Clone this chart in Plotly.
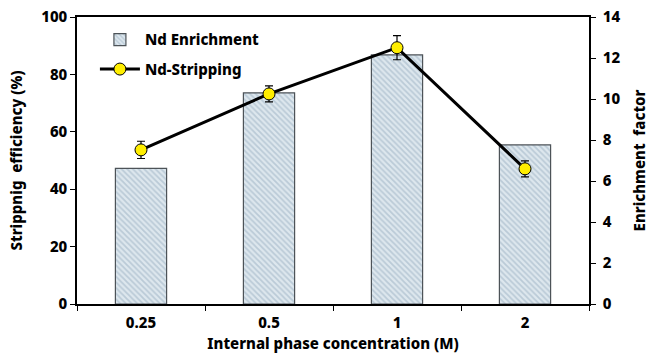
import plotly.graph_objects as go

categories = ["0.25", "0.5", "1", "2"]
enrichment = [6.62, 10.3, 12.15, 7.76]
stripping = [53.7, 73.2, 89.3, 47.1]
stripping_err = [3.0, 2.8, 4.2, 2.8]

FONT = "Noto Sans"
BF = dict(family=FONT, size=15, color="black", weight=800)

fig = go.Figure()
fig.add_trace(go.Bar(
    x=categories, y=enrichment, name="Nd Enrichment", yaxis="y", width=0.4, legendgroup="a",
    marker=dict(color="#d6e2ea", line=dict(color="#4d5358", width=1.2),
                pattern=dict(shape="\\", fgcolor="#98aebf", bgcolor="#dde7ee", size=4, solidity=0.45)),
))
fig.add_trace(go.Scatter(
    x=categories, y=stripping, name="Nd-Stripping", yaxis="y2", mode="lines+markers", legendgroup="b",
    line=dict(color="black", width=3),
    marker=dict(color="#ffee00", size=12, line=dict(color="black", width=1)),
    error_y=dict(type="data", array=stripping_err, color="black", thickness=1.2, width=4),
))

fig.update_layout(
    width=649, height=358,
    margin=dict(l=77, r=60, t=17, b=54),
    plot_bgcolor="white", paper_bgcolor="white",
    font=dict(family=FONT, color="black"),
    bargap=0.6,
    showlegend=True,
    legend=dict(x=0.035, y=0.978, xanchor="left", yanchor="top", bgcolor="rgba(0,0,0,0)",
                font=BF, traceorder="grouped", tracegroupgap=7, itemwidth=40),
    xaxis=dict(showline=True, linecolor="black", linewidth=1.5, mirror=True, automargin=False,
               ticks="outside", tickson="boundaries", ticklen=5, tickcolor="black",
               tickfont=BF, ticklabelstandoff=4,
               title=dict(text="Internal phase concentration (M)", font=BF, standoff=8),
               showgrid=False),
    yaxis=dict(side="right", range=[0, 14], dtick=2, showline=True, linecolor="black", linewidth=1.5,
               ticks="outside", ticklen=5, tickcolor="black", showgrid=False, zeroline=False,
               tickfont=BF, ticklabelstandoff=4, automargin=False,
               title=dict(text="Enrichment  factor", font=BF)),
    yaxis2=dict(overlaying="y", side="left", range=[0, 100], dtick=20, showline=True, linecolor="black",
                linewidth=1.5, ticks="outside", ticklen=5, tickcolor="black", showgrid=False, zeroline=False,
                tickfont=BF, automargin=False,
                title=dict(text="Strippnig  efficiency (%)", font=BF)),
)

fig.write_html("out.html")
